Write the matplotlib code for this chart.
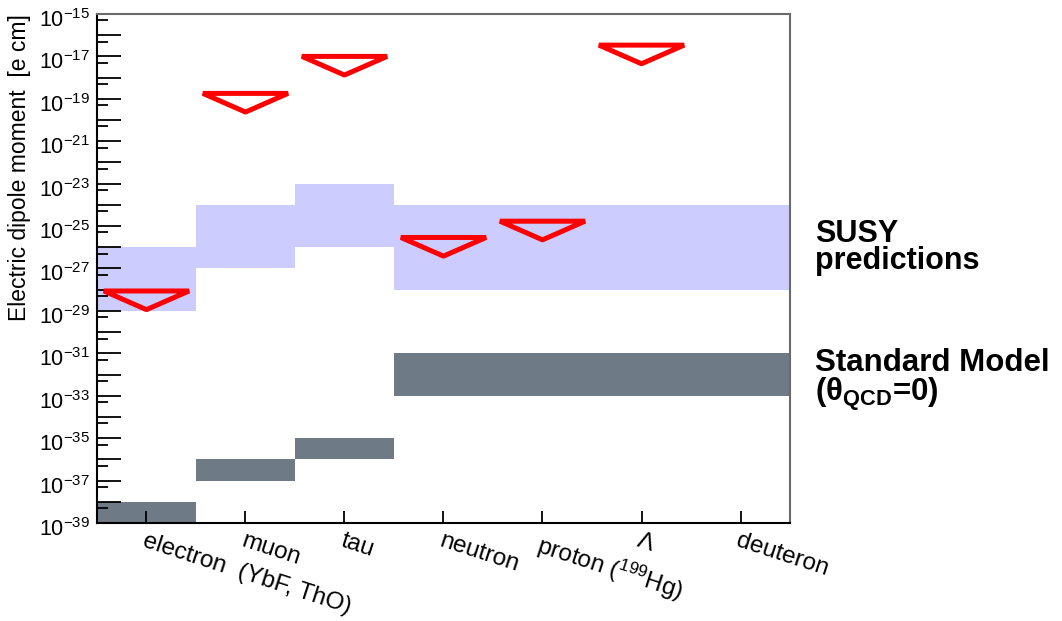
import numpy as np
import matplotlib.pyplot as plt
import matplotlib.transforms as mtransforms
from matplotlib.patches import Polygon
from matplotlib.ticker import LogLocator, FuncFormatter, NullFormatter

plt.rcParams['font.family'] = ['Liberation Sans', 'DejaVu Sans']
plt.rcParams['mathtext.fontset'] = 'custom'
plt.rcParams['mathtext.rm'] = 'Liberation Sans'
plt.rcParams['mathtext.it'] = 'Liberation Sans:italic'
plt.rcParams['mathtext.bf'] = 'Liberation Sans:bold'

# particles
labels = ['electron  (YbF, ThO)', 'muon', 'tau', 'neutron',
          r'proton ($^{199}$Hg)', 'Λ', 'deuteron']

# SUSY predictions (e cm)
susy_lo = [1e-29, 1e-27, 1e-26, 1e-28, 1e-28, 1e-28, 1e-28]
susy_hi = [1e-26, 1e-24, 1e-23, 1e-24, 1e-24, 1e-24, 1e-24]

# Standard Model (theta_QCD = 0)
sm_lo = [1e-39, 1e-37, 1e-36, 1e-33, 1e-33, 1e-33, 1e-33]
sm_hi = [1e-38, 1e-36, 1e-35, 1e-31, 1e-31, 1e-31, 1e-31]

# experimental upper limits (no deuteron yet)
lim_x = [0, 1, 2, 3, 4, 5]
lim_val = [8.7e-29, 1.8e-19, 1.0e-17, 2.9e-26, 1.7e-25, 3.4e-17]

x = np.arange(len(labels))

fig = plt.figure(figsize=(10.62, 6.21), dpi=100)
ax = fig.add_axes([0.0913, 0.1578, 0.6526, 0.8197])

ax.bar(x, np.array(susy_hi) - np.array(susy_lo), bottom=susy_lo, width=1.0,
       color='#ccccff', linewidth=0, zorder=1)
ax.bar(x, np.array(sm_hi) - np.array(sm_lo), bottom=sm_lo, width=1.0,
       color='#6e7a85', linewidth=0, zorder=1)

# limit markers: downward triangles hanging from the limit
hw = 0.43
for xi, v in zip(lim_x, lim_val):
    tri = Polygon([[xi - hw, v], [xi + hw, v], [xi, v * 10**-0.88]], closed=True,
                  fill=False, edgecolor='red', linewidth=3.6, joinstyle='bevel',
                  zorder=3)
    ax.add_patch(tri)

ax.set_yscale('log')
ax.set_ylim(1e-39, 1e-15)
ax.set_xlim(-0.5, len(labels) - 0.5)

ax.yaxis.set_major_locator(LogLocator(base=10, numticks=40))
ax.yaxis.set_minor_locator(LogLocator(base=10, subs=(5.0,), numticks=40))
ax.yaxis.set_minor_formatter(NullFormatter())


def fmt(v, pos):
    e = int(round(np.log10(v)))
    if e % 2 == 0:
        return ''
    return r'$10^{%d}$' % e


ax.yaxis.set_major_formatter(FuncFormatter(fmt))
ax.tick_params(axis='y', which='major', direction='in', length=17, width=1.3,
               labelsize=15.5, pad=5, right=False)
ax.tick_params(axis='y', which='minor', direction='in', length=8, width=1.3,
               right=False)

ax.set_xticks(x)
ax.set_xticklabels(labels, rotation=-18, ha='left', va='top',
                   rotation_mode='anchor', fontsize=17.5)
ax.tick_params(axis='x', direction='in', length=8.5, width=1.3, pad=5,
               top=False)

for s in ['left', 'bottom']:
    ax.spines[s].set_linewidth(1.5)
    ax.spines[s].set_color('black')
for s in ['top', 'right']:
    ax.spines[s].set_linewidth(1.5)
    ax.spines[s].set_color('#6a6a6a')

fig.text(0.0188, 0.9775, 'Electric dipole moment  [e cm]', rotation=90,
         ha='center', va='top', fontsize=16.5)

ax.text(1.036, 0.597, 'SUSY\npredictions', transform=ax.transAxes,
        ha='left', va='top', fontsize=22, fontweight='bold', linespacing=0.88)
ax.text(1.036, 0.343, 'Standard Model\n' + r'(θ$_{\mathbf{QCD}}$=0)',
        transform=ax.transAxes, ha='left', va='top', fontsize=22.5,
        fontweight='bold', linespacing=0.9)

# push the exponent labels down a little so the top one stays on the canvas
fig.canvas.draw()
shift = mtransforms.ScaledTranslation(0, -4 / 100, fig.dpi_scale_trans)
for t in ax.yaxis.get_major_ticks():
    t.label1.set_transform(t.label1.get_transform() + shift)

fig.savefig('out.png', dpi=100)
